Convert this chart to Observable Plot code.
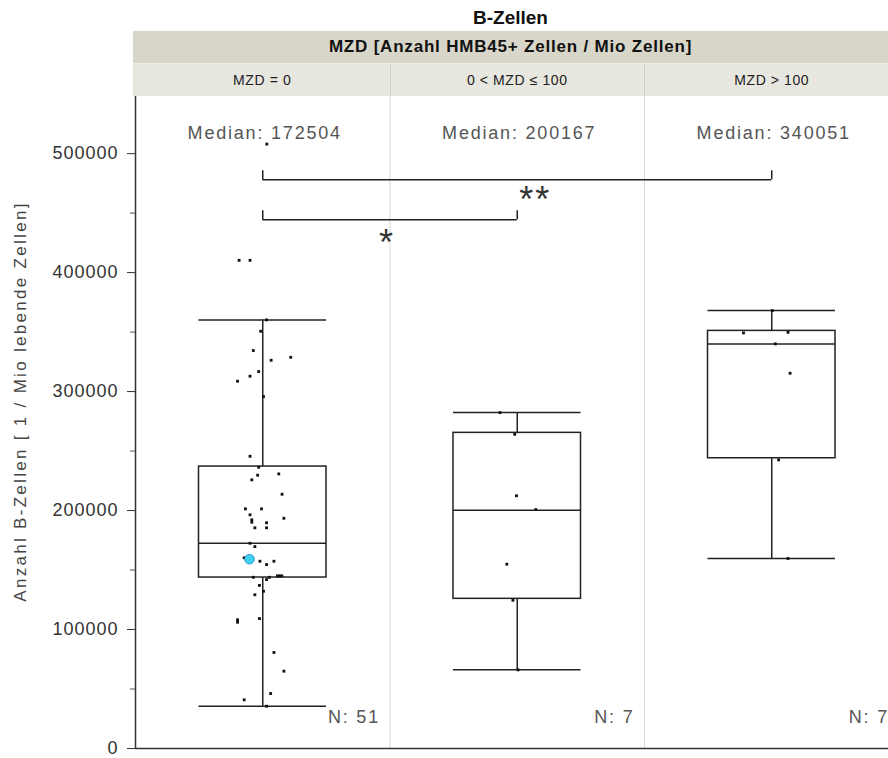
<!DOCTYPE html>
<html>
<head>
<meta charset="utf-8">
<script src="https://cdn.jsdelivr.net/npm/d3@7"></script>
<script src="https://cdn.jsdelivr.net/npm/@observablehq/plot@0.6"></script>
<style>
  body { margin: 0; background: #fff; font-family: "Liberation Sans", Arial, sans-serif; }
  #chart { position: relative; width: 888px; height: 758px; overflow: hidden; background: #fff; }
  #titel { position: absolute; top: 7px; left: 133px; width: 755px; line-height: 22px; text-align: center;
           font-weight: bold; font-size: 19px; color: #111; }
  .streifen { position: absolute; left: 133px; width: 755px; box-sizing: border-box; }
  #streifen1 { top: 31px; height: 32px; background: #d7d6c8; display: flex; align-items: center; justify-content: center;
               font-weight: bold; font-size: 17px; letter-spacing: 0.8px; color: #111; }
  #streifen2 { top: 63px; height: 33px; background: #e7e7df; border-top: 1px solid #eeeee8; }
  .zelle { position: absolute; top: 0; height: 100%; display: flex; align-items: center; justify-content: center;
           font-size: 14px; letter-spacing: 0.6px; color: #222; box-sizing: border-box; }
  .zelle + .zelle { border-left: 1px solid #d0d0c6; }
  #plot { position: absolute; top: 96px; left: 0; }
  g[aria-label="y-axis tick label"] text { letter-spacing: 1px; }
  g[aria-description="median"] text, g[aria-description="anzahl"] text { letter-spacing: 1.8px; }
  g[aria-description="achsentitel"] text { letter-spacing: 2.3px; }
  g[aria-description="signifikanz"] text { letter-spacing: 2px; }
</style>
</head>
<body>
<div id="chart">
  <div id="titel">B-Zellen</div>
  <div class="streifen" id="streifen1">MZD [Anzahl HMB45+ Zellen / Mio Zellen]</div>
  <div class="streifen" id="streifen2"></div>
  <div id="plot"></div>
</div>
<script>
// Gruppen nach MZD (Anzahl HMB45+ Zellen / Mio Zellen)
const gruppen = ["MZD = 0", "0 < MZD ≤ 100", "MZD > 100"];

// Kennwerte der Boxplots je Gruppe
const unten  = [35550, 66100, 159700];
const q1     = [143700, 125800, 243950];
const median = [172504, 200167, 340051];
const q3     = [236975, 265290, 351000];
const oben   = [360250, 282300, 368067];
const anzahl = [51, 7, 7];

// Einzelwerte (B-Zellen je Mio lebende Zellen) mit horizontaler Streuung
const werte1 = [508000, 410300, 410300, 360250, 350700, 334500, 326300, 328800, 316800, 312900,
                308700, 295800, 245600, 236400, 229700, 230800, 225800, 213700, 201400, 201400,
                196400, 192200, 190200, 193500, 189700, 185500, 185500, 172500, 169700, 159100,
                160300, 157400, 157400, 154600, 145100, 145100, 145100, 143900, 142000, 143900,
                137100, 132200, 129200, 108200, 106100, 109200, 80700, 65000, 46200, 40900, 35550];
const streu1 = [0.016, -0.093, -0.050, 0.015, -0.008, -0.037, 0.033, 0.110, -0.016, -0.050,
                -0.099, 0.003, -0.050, -0.016, -0.020, 0.063, -0.043, 0.076, -0.068, -0.005,
                -0.050, -0.043, -0.043, 0.083, 0.015, -0.031, 0.015, -0.050, -0.031, -0.052,
                -0.073, -0.011, 0.044, 0.015, 0.058, 0.066, 0.075, -0.037, 0.015, 0.026,
                -0.013, 0.003, -0.031, -0.099, -0.099, -0.013, 0.044, 0.083, 0.031, -0.073, 0.015];
const werte2 = [282300, 264100, 212400, 200800, 154900, 124600, 66100];
const streu2 = [-0.068, -0.010, -0.003, 0.073, -0.041, -0.017, 0.003];
const werte3 = [368067, 349300, 349800, 340100, 315400, 242600, 159700];
const streu3 = [0.002, -0.111, 0.064, 0.014, 0.072, 0.027, 0.064];

// hervorgehobener Einzelfall
const markiertGruppe = "MZD = 0";
const markiertWert = 159100;

// Signifikanzklammern
const vergleichVon   = ["MZD = 0", "MZD = 0"];
const vergleichBis   = ["MZD > 100", "0 < MZD ≤ 100"];
const vergleichHoehe = [478000, 444500];
const vergleichText  = ["**", "*"];

// Achse
const yTicks = [0, 100000, 200000, 300000, 400000, 500000];
const yTicksKlein = [50000, 150000, 250000, 350000, 450000];
const yTitel = "Anzahl B-Zellen [ 1 / Mio lebende Zellen]";

// Tabellen für die Marks
const boxen = gruppen.map((g, i) => ({
  gruppe: g, unten: unten[i], q1: q1[i], median: median[i], q3: q3[i], oben: oben[i], n: anzahl[i]
}));
const punkte = [
  ...werte1.map((w, i) => ({gruppe: gruppen[0], wert: w, streu: streu1[i]})),
  ...werte2.map((w, i) => ({gruppe: gruppen[1], wert: w, streu: streu2[i]})),
  ...werte3.map((w, i) => ({gruppe: gruppen[2], wert: w, streu: streu3[i]}))
];
const markiert = punkte.filter(d => d.gruppe === markiertGruppe && d.wert === markiertWert);
const vergleiche = vergleichVon.map((v, i) => ({
  von: v, bis: vergleichBis[i], hoehe: vergleichHoehe[i], text: vergleichText[i]
}));

// Position einer Gruppe auf der x-Skala: jede Gruppe belegt ein Intervall der Breite 1
const gi = g => gruppen.indexOf(g);
const mitte = g => gi(g) + 0.5;
const boxInset = 63.5;
const linie = "#222";

const plot = Plot.plot({
  width: 888,
  height: 662,
  marginLeft: 135,
  marginRight: 0,
  marginTop: 0,
  marginBottom: 10,
  style: {fontFamily: "'Liberation Sans', Arial, sans-serif", fontSize: "18px", color: "#333", background: "transparent"},
  x: {domain: [0, gruppen.length], range: [135, 898.5], axis: null},
  y: {domain: [0, 548000], axis: null},
  marks: [
    // Trennlinien zwischen den Gruppen
    Plot.ruleX(gruppen.slice(1), {x: g => gi(g), stroke: "#d9d9d9", strokeWidth: 1}),
    // Achsenlinien
    Plot.ruleY([0], {stroke: "#333", strokeWidth: 1.5}),
    Plot.ruleX([0], {stroke: "#333", strokeWidth: 1.5}),
    Plot.axisY({ticks: yTicks, tickSize: 8, tickPadding: 9, tickFormat: d => String(d),
                stroke: "#333", fill: "#333", fontSize: 18, label: null}),
    Plot.axisY({ticks: yTicksKlein, tickSize: 5, fill: "none", stroke: "#555", label: null}),
    Plot.text([yTitel], {frameAnchor: "left", textAnchor: "middle", rotate: -90, dx: -115, dy: -21,
                         fontSize: 17, fill: "#444", ariaDescription: "achsentitel"}),
    // Whisker
    Plot.ruleX(boxen, {x: d => mitte(d.gruppe), y1: "unten", y2: "oben", stroke: linie, strokeWidth: 1.5}),
    // Box
    Plot.rect(boxen, {x1: d => gi(d.gruppe), x2: d => gi(d.gruppe) + 1, y1: "q1", y2: "q3",
                      insetLeft: boxInset, insetRight: boxInset, fill: "white", stroke: linie, strokeWidth: 1.5}),
    // Median und Whisker-Enden
    Plot.ruleY(boxen, {x1: d => gi(d.gruppe), x2: d => gi(d.gruppe) + 1, y: "median",
                       insetLeft: boxInset, insetRight: boxInset, stroke: linie, strokeWidth: 1.5}),
    Plot.ruleY(boxen, {x1: d => gi(d.gruppe), x2: d => gi(d.gruppe) + 1, y: "unten",
                       insetLeft: boxInset, insetRight: boxInset, stroke: linie, strokeWidth: 1.5}),
    Plot.ruleY(boxen, {x1: d => gi(d.gruppe), x2: d => gi(d.gruppe) + 1, y: "oben",
                       insetLeft: boxInset, insetRight: boxInset, stroke: linie, strokeWidth: 1.5}),
    // Einzelwerte
    Plot.dot(punkte, {x: d => mitte(d.gruppe) + d.streu, y: "wert", symbol: "square", r: 1.6,
                      fill: "#111", stroke: null}),
    Plot.dot(markiert, {x: d => mitte(d.gruppe) + d.streu, y: "wert", r: 4.8,
                        fill: "#3fd0f2", stroke: "#2b9bd8", strokeWidth: 1}),
    // Median- und Fallzahl-Beschriftung
    Plot.text(boxen, {x: d => mitte(d.gruppe), frameAnchor: "top", dy: 30, dx: 2,
                      text: d => `Median: ${d.median}`, fill: "#555", fontSize: 18, ariaDescription: "median"}),
    Plot.text(boxen, {x: d => gi(d.gruppe) + 1, frameAnchor: "bottom", dy: -26, dx: -10, textAnchor: "end",
                      text: d => `N: ${d.n}`, fill: "#555", fontSize: 18, ariaDescription: "anzahl"}),
    // Signifikanzklammern
    Plot.ruleY(vergleiche, {x1: d => mitte(d.von), x2: d => mitte(d.bis), y: "hoehe", stroke: linie, strokeWidth: 1.5}),
    Plot.ruleX(vergleiche, {x: d => mitte(d.von), y1: "hoehe", y2: "hoehe", insetTop: -9, stroke: linie, strokeWidth: 1.5}),
    Plot.ruleX(vergleiche, {x: d => mitte(d.bis), y1: "hoehe", y2: "hoehe", insetTop: -9, stroke: linie, strokeWidth: 1.5}),
    Plot.text(vergleiche.filter(d => d.text === "**"), {x: d => (mitte(d.von) + mitte(d.bis)) / 2, y: "hoehe",
              text: "text", lineAnchor: "bottom", dy: 32, dx: 18, fontSize: 36, fill: "#333", ariaDescription: "signifikanz"}),
    Plot.text(vergleiche.filter(d => d.text === "*"), {x: d => (mitte(d.von) + mitte(d.bis)) / 2, y: "hoehe",
              text: "text", lineAnchor: "bottom", dy: 35, dx: -3, fontSize: 36, fill: "#333", ariaDescription: "signifikanz"})
  ]
});
document.getElementById("plot").appendChild(plot);

// Kopfzeile der Gruppen, ausgerichtet an der x-Skala
const xs = plot.scale("x");
const streifen2 = document.getElementById("streifen2");
gruppen.forEach((g, i) => {
  const a = xs.apply(i), b = xs.apply(i + 1);
  const zelle = document.createElement("div");
  zelle.className = "zelle";
  zelle.style.left = (a - 133) + "px";
  zelle.style.width = (b - a) + "px";
  zelle.textContent = g;
  streifen2.appendChild(zelle);
});
</script>
</body>
</html>
